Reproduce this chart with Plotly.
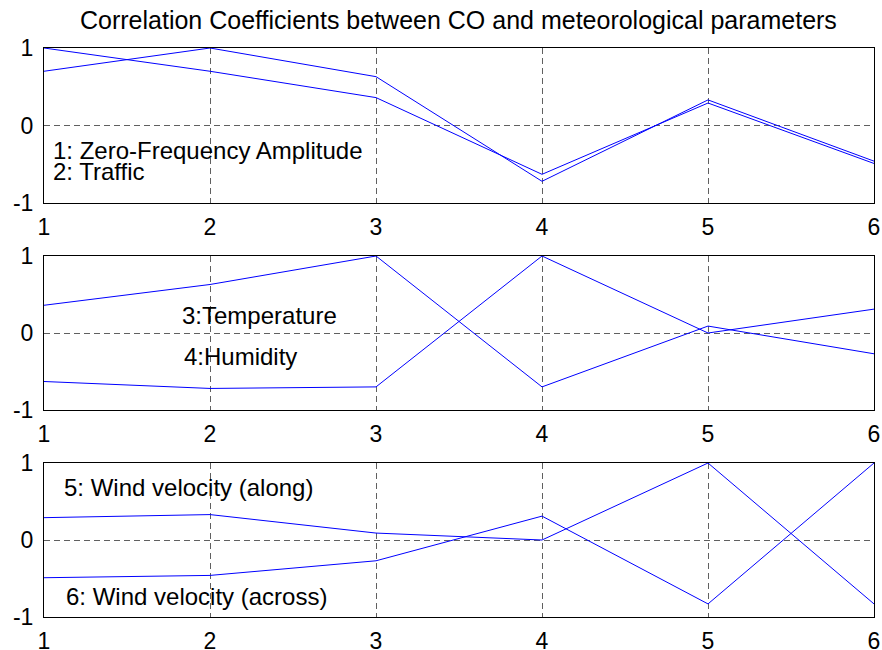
import plotly.graph_objects as go
from plotly.subplots import make_subplots

# Data: correlation coefficients (rows of the correlation matrix)
parameter_index = [1, 2, 3, 4, 5, 6]
zero_freq_amplitude = [1.0, 0.70, 0.36, -0.63, 0.29, -0.49]
traffic = [0.70, 1.0, 0.63, -0.72, 0.33, -0.46]
temperature = [0.36, 0.63, 1.0, -0.70, 0.09, -0.27]
humidity = [-0.63, -0.72, -0.70, 1.0, 0.0, 0.31]
wind_along = [0.29, 0.33, 0.09, 0.0, 1.0, -0.83]
wind_across = [-0.49, -0.46, -0.27, 0.31, -0.83, 1.0]

y_ticks = [-1, 0, 1]
x_ticks = [1, 2, 3, 4, 5, 6]

title_text = "Correlation Coefficients between CO and meteorological parameters"
labels_1 = ["1: Zero-Frequency Amplitude", "2: Traffic"]
labels_2 = ["3:Temperature", "4:Humidity"]
labels_3 = ["5: Wind velocity (along)", "6: Wind velocity (across)"]

W, H = 882, 650
L, R = 44, 8
FONT = "Liberation Sans, Arial, Helvetica, sans-serif"
FS = 23

fig = make_subplots(rows=3, cols=1)

groups = [
    (zero_freq_amplitude, traffic),
    (temperature, humidity),
    (wind_along, wind_across),
]
for i, (a, b) in enumerate(groups, start=1):
    for s in (a, b):
        fig.add_trace(go.Scatter(x=parameter_index, y=s, mode="lines",
                                 line=dict(color="#0000ff", width=1),
                                 showlegend=False, hoverinfo="skip"),
                      row=i, col=1)

# pixel extents of each panel (top, bottom)
panels = [(48, 203), (256, 410), (463, 617)]
for i, (top, bot) in enumerate(panels, start=1):
    fig.update_yaxes(range=[-1, 1], tickvals=y_ticks, ticktext=[str(v) for v in y_ticks],
                     domain=[1 - bot / H, 1 - top / H], automargin=False,
                     showline=True, linecolor="black", linewidth=1, mirror=True,
                     showgrid=True, gridcolor="#606060", gridwidth=1, griddash="6px,4px",
                     zeroline=False, ticks="", ticklabelstandoff=5,
                     ticklabeloverflow="allow",
                     tickfont=dict(family=FONT, size=FS, color="black"),
                     row=i, col=1)
    fig.update_xaxes(range=[1, 6], tickvals=x_ticks, automargin=False,
                     showline=True, linecolor="black", linewidth=1, mirror=True,
                     showgrid=True, gridcolor="#606060", gridwidth=1, griddash="6px,4px",
                     zeroline=False, ticks="", ticklabelstandoff=3,
                     ticklabeloverflow="allow",
                     tickfont=dict(family=FONT, size=FS, color="black"),
                     row=i, col=1)


def px_x(px):
    return (px - L) / (W - L - R)


def px_y(py):
    return 1 - py / H


annots = [
    (title_text, 458, 20, "center", 25),
    (labels_1[0], 51, 150, "left", 24),
    (labels_1[1], 51, 171, "left", 24),
    (labels_2[0], 180, 315, "left", 24),
    (labels_2[1], 182, 356, "left", 24),
    (labels_3[0], 62, 487, "left", 24),
    (labels_3[1], 64, 596, "left", 24),
]
for text, x, y, anchor, size in annots:
    fig.add_annotation(text=text, x=px_x(x), y=px_y(y), xref="paper", yref="paper",
                       xanchor=anchor, yanchor="middle", showarrow=False,
                       font=dict(family=FONT, size=size, color="black"))

fig.update_layout(width=W, height=H, margin=dict(l=L, r=R, t=0, b=0, autoexpand=False),
                  paper_bgcolor="white", plot_bgcolor="white")

fig.write_html("out.html", config={"displayModeBar": False},
               post_script="document.body.style.margin='0';document.body.style.overflow='hidden';")
